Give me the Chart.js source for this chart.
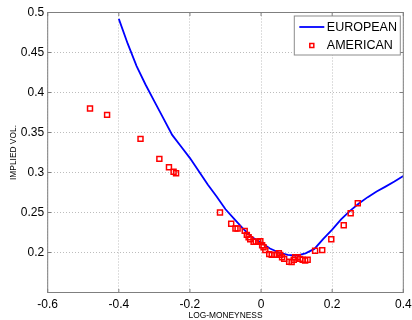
<!DOCTYPE html>
<html>
<head>
<meta charset="utf-8">
<script src="https://cdn.jsdelivr.net/npm/chart.js@4.4.1/dist/chart.umd.min.js"></script>
<style>
  html, body { margin: 0; padding: 0; background: #fff; }
  #wrap { width: 412px; height: 320px; }
</style>
</head>
<body>
<div id="wrap"><canvas id="smile"></canvas></div>
<script>
// european smile, evaluated on a log-moneyness grid
const euroK = [-0.400, -0.375, -0.350, -0.325, -0.300, -0.275, -0.250, -0.225, -0.200, -0.175, -0.150, -0.125,
  -0.100, -0.075, -0.050, -0.025, 0.000, 0.025, 0.050, 0.075, 0.100, 0.125, 0.150, 0.175,
  0.200, 0.225, 0.250, 0.275, 0.300, 0.325, 0.350, 0.375, 0.400];
const euroVol = [0.492, 0.461, 0.433, 0.410, 0.389, 0.368, 0.347, 0.3325, 0.318, 0.3016, 0.285, 0.270,
  0.254, 0.2417, 0.2295, 0.219, 0.2125, 0.205, 0.200, 0.197, 0.1962, 0.199, 0.2045, 0.217,
  0.2285, 0.2415, 0.252, 0.2613, 0.2692, 0.2762, 0.2823, 0.2887, 0.2955];

// american implied vols backed out of market quotes
const amerK = [-0.481, -0.433, -0.339, -0.286, -0.259, -0.246, -0.239,
  -0.1155, -0.084, -0.072, -0.066, -0.046, -0.040, -0.035, -0.0305, -0.021, -0.0145, -0.008, -0.002,
  0.003, 0.007, 0.012, 0.023, 0.030, 0.037, 0.044, 0.050, 0.054, 0.059, 0.065,
  0.079, 0.086, 0.092, 0.096, 0.103, 0.110, 0.117, 0.124, 0.131,
  0.152, 0.172, 0.1975, 0.2325, 0.252, 0.272];
const amerVol = [0.380, 0.372, 0.342, 0.317, 0.3065, 0.301, 0.299,
  0.250, 0.236, 0.230, 0.230, 0.227, 0.222, 0.219, 0.2165, 0.2135, 0.2135, 0.2135, 0.214,
  0.209, 0.2065, 0.203, 0.198, 0.197, 0.197, 0.197, 0.199, 0.197, 0.194, 0.192,
  0.1885, 0.188, 0.191, 0.194, 0.194, 0.192, 0.191, 0.190, 0.191,
  0.2023, 0.203, 0.2165, 0.234, 0.249, 0.2615];

const xTicks = [-0.6, -0.4, -0.2, 0, 0.2, 0.4];
const yTicks = [0.15, 0.2, 0.25, 0.3, 0.35, 0.4, 0.45, 0.5];

const seriesNames = ['EUROPEAN', 'AMERICAN'];

const axisGrey = '#7f7f7f';
const gridGrey = '#bdbdbd';
const fontFamily = '"Liberation Sans", Arial, Helvetica, sans-serif';

// matlab-style frame: box on all sides, ticks pointing in, legend box
const framePlugin = {
  id: 'frame',
  afterDraw(chart) {
    const { ctx, chartArea: a, scales } = chart;
    const tl = 3.5;
    ctx.save();
    ctx.strokeStyle = axisGrey;
    ctx.lineWidth = 1;
    ctx.strokeRect(a.left, a.top, a.width, a.height);
    ctx.beginPath();
    xTicks.forEach(v => {
      const px = scales.x.getPixelForValue(v);
      ctx.moveTo(px, a.bottom); ctx.lineTo(px, a.bottom - tl);
      ctx.moveTo(px, a.top); ctx.lineTo(px, a.top + tl);
    });
    yTicks.forEach(v => {
      const py = scales.y.getPixelForValue(v);
      ctx.moveTo(a.left, py); ctx.lineTo(a.left + tl, py);
      ctx.moveTo(a.right, py); ctx.lineTo(a.right - tl, py);
    });
    ctx.stroke();

    // legend
    const bw = 106, bh = 39;
    const bx = a.right - bw - 3, by = a.top + 3.5;
    ctx.fillStyle = '#fff';
    ctx.fillRect(bx, by, bw, bh);
    ctx.strokeStyle = '#8c8c8c';
    ctx.strokeRect(bx, by, bw, bh);

    const ds = chart.data.datasets;
    const row1 = by + 11, row2 = by + 29.5;
    ctx.strokeStyle = ds[0].borderColor;
    ctx.lineWidth = ds[0].borderWidth;
    ctx.beginPath();
    ctx.moveTo(bx + 5, row1); ctx.lineTo(bx + 30, row1);
    ctx.stroke();

    ctx.strokeStyle = ds[1].borderColor;
    ctx.lineWidth = ds[1].borderWidth;
    ctx.strokeRect(bx + 15.5, row2 - 2, 4, 4);

    ctx.fillStyle = '#000';
    ctx.font = '12.5px ' + fontFamily;
    ctx.textBaseline = 'middle';
    ctx.fillText(ds[0].label, bx + 32.5, row1 + 0.5);
    ctx.fillText(ds[1].label, bx + 32.5, row2 + 0.5);
    ctx.restore();
  }
};

new Chart(document.getElementById('smile'), {
  type: 'scatter',
  data: {
    datasets: [
      {
        label: seriesNames[0],
        data: euroK.map((k, i) => ({ x: k, y: euroVol[i] })),
        showLine: true,
        borderColor: '#0000ff',
        borderWidth: 1.8,
        pointRadius: 0,
        tension: 0,
        order: 1
      },
      {
        label: seriesNames[1],
        data: amerK.map((k, i) => ({ x: k, y: amerVol[i] })),
        showLine: false,
        pointStyle: 'rect',
        pointRadius: 3.5,
        borderColor: '#ff0000',
        backgroundColor: 'rgba(0,0,0,0)',
        borderWidth: 1.5,
        order: 0
      }
    ]
  },
  options: {
    responsive: true,
    maintainAspectRatio: false,
    animation: false,
    layout: { padding: { left: 0, right: 8.7, top: 12.5, bottom: 0 } },
    plugins: {
      legend: { display: false },
      tooltip: { enabled: false }
    },
    scales: {
      x: {
        type: 'linear',
        min: -0.6,
        max: 0.4,
        afterBuildTicks: s => { s.ticks = xTicks.map(v => ({ value: v })); },
        afterFit: s => { s.height = 27.5; s.paddingLeft = 0; s.paddingRight = 0; },
        // border.dash also sets the dash of the grid lines in v4
        border: { display: false, dash: [1, 2] },
        grid: { color: gridGrey, lineWidth: 1, drawTicks: false },
        ticks: {
          padding: 5,
          color: '#000',
          font: { family: fontFamily, size: 12 },
          maxRotation: 0,
          callback: v => String(v)
        },
        title: {
          display: true,
          text: 'LOG-MONEYNESS',
          color: '#000',
          padding: 0,
          font: { family: fontFamily, size: 8.4, lineHeight: 1 }
        }
      },
      y: {
        type: 'linear',
        min: 0.15,
        max: 0.5,
        afterBuildTicks: s => { s.ticks = yTicks.map(v => ({ value: v })); },
        afterFit: s => { s.width = 47.7; s.paddingTop = 0; s.paddingBottom = 0; },
        border: { display: false, dash: [1, 2] },
        grid: { color: gridGrey, lineWidth: 1, drawTicks: false },
        ticks: {
          padding: 3.5,
          color: '#000',
          font: { family: fontFamily, size: 12 },
          callback: v => (v === yTicks[0] ? '' : String(v))
        },
        title: {
          display: true,
          text: 'IMPLIED VOL.',
          color: '#000',
          padding: 9,
          font: { family: fontFamily, size: 8.4, lineHeight: 1 }
        }
      }
    }
  },
  plugins: [framePlugin]
});
</script>
</body>
</html>
